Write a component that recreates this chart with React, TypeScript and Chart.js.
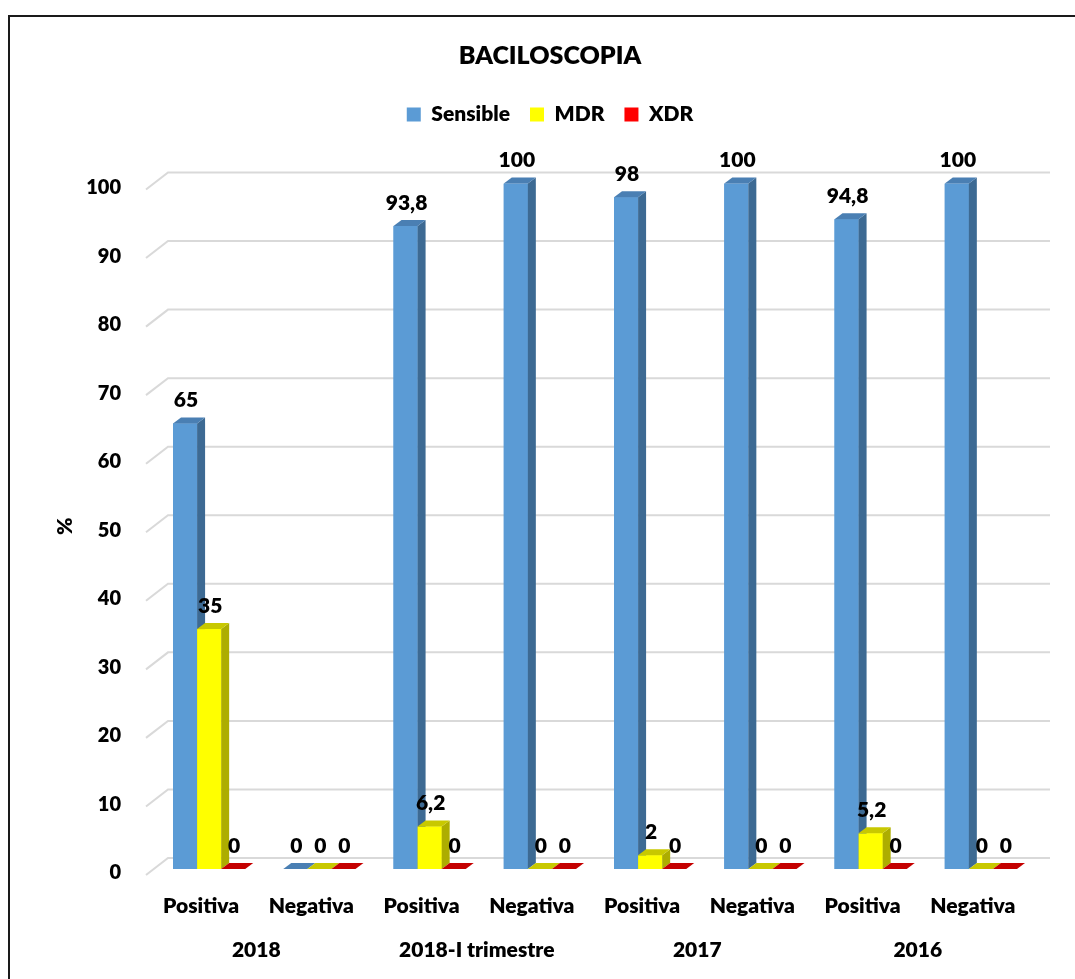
import React, { useEffect, useRef } from "react";
import { Chart, registerables } from "chart.js";

Chart.register(...registerables);

const categories = ["Positiva", "Negativa", "Positiva", "Negativa", "Positiva", "Negativa", "Positiva", "Negativa"];
const groups = ["2018", "2018-I trimestre", "2017", "2016"];
const sensible = [65, 0, 93.8, 100, 98, 100, 94.8, 100];
const mdr = [35, 0, 6.2, 0, 2, 0, 5.2, 0];
const xdr = [0, 0, 0, 0, 0, 0, 0, 0];
const seriesNames = ["Sensible", "MDR", "XDR"];

const FONT = "Lato, 'Open Sans', sans-serif";
const W = 800;
const front = ["#5b9bd5", "#ffff00", "#ff0000"];
const side = ["#3d6a93", "#adad00", "#b00000"];
const topC = ["#4a7fb3", "#c8c800", "#c40000"];
const DX = 8;
const DY = 6;

const fmt = (v: number) => String(v).replace(".", ",");

const framePlugin = {
  id: "frame",
  beforeDraw(chart: any) {
    const ctx = chart.ctx;
    ctx.save();
    ctx.fillStyle = "#ffffff";
    ctx.fillRect(0, 0, chart.width, chart.height);
    ctx.strokeStyle = "#1a1a1a";
    ctx.lineWidth = 2;
    ctx.strokeRect(9, 16, chart.width + 20, chart.height + 20);
    ctx.restore();
  },
};

const legendSpace = {
  id: "legendSpace",
  beforeLayout(chart: any) {
    const lg = chart.legend;
    if (lg && !lg._patched) {
      const orig = lg.fit.bind(lg);
      lg.fit = function () {
        orig();
        this.height += 48.5;
      };
      lg._patched = true;
    }
  },
};

const gridPlugin = {
  id: "grid3d",
  beforeDatasetsDraw(chart: any) {
    const { ctx, chartArea, scales } = chart;
    const y = scales.y;
    ctx.save();
    ctx.strokeStyle = "#d9d9d9";
    ctx.lineWidth = 2;
    y.ticks.forEach((t: any) => {
      const yv = y.getPixelForValue(t.value);
      ctx.beginPath();
      ctx.moveTo(chartArea.left - 8, yv + 6);
      ctx.lineTo(chartArea.left + 14, yv - 11);
      ctx.lineTo(chartArea.right + 14, yv - 11);
      ctx.stroke();
    });
    ctx.restore();
  },
};

const bars3d = {
  id: "bars3d",
  afterDatasetsDraw(chart: any) {
    const ctx = chart.ctx;
    const metas = [0, 1, 2].map((i) => chart.getDatasetMeta(i));
    const n = chart.data.labels.length;
    ctx.save();
    for (let i = 0; i < n; i++) {
      for (let d = 0; d < 3; d++) {
        const el = metas[d].data[i];
        if (!el) continue;
        const { x, y, base, width } = el.getProps(["x", "y", "base", "width"], true);
        const l = x - width / 2;
        const r = x + width / 2;
        const t = Math.min(y, base);
        const b = Math.max(y, base);
        if (b - t > 0.5) {
          ctx.fillStyle = front[d];
          ctx.fillRect(l, t, r - l, b - t);
          ctx.fillStyle = side[d];
          ctx.beginPath();
          ctx.moveTo(r, t);
          ctx.lineTo(r + DX, t - DY);
          ctx.lineTo(r + DX, b - DY);
          ctx.lineTo(r, b);
          ctx.closePath();
          ctx.fill();
        }
        ctx.fillStyle = topC[d];
        ctx.beginPath();
        ctx.moveTo(l, t);
        ctx.lineTo(l + DX, t - DY);
        ctx.lineTo(r + DX, t - DY);
        ctx.lineTo(r, t);
        ctx.closePath();
        ctx.fill();
      }
    }
    ctx.fillStyle = "#000000";
    ctx.font = `${W} 21px ${FONT}`;
    ctx.textAlign = "center";
    ctx.textBaseline = "middle";
    for (let d = 0; d < 3; d++) {
      const ds = chart.data.datasets[d];
      metas[d].data.forEach((el: any, i: number) => {
        const { x, y } = el.getProps(["x", "y"], true);
        ctx.fillText(fmt(ds.data[i]), x + 1, y - 23);
      });
    }
    ctx.restore();
  },
};

export default function App() {
  const ref = useRef<HTMLCanvasElement | null>(null);
  useEffect(() => {
    if (!ref.current) return;
    const chart = new Chart(ref.current, {
      type: "bar",
      data: {
        labels: categories,
        datasets: [sensible, mdr, xdr].map((arr, i) => ({
          label: seriesNames[i],
          data: arr,
          backgroundColor: front[i],
          borderWidth: 0,
          categoryPercentage: 0.655,
          barPercentage: 1,
        })),
      },
      options: {
        responsive: false,
        animation: false,
        devicePixelRatio: 1,
        layout: { padding: { left: 64, right: 39, top: 0, bottom: 0 } },
        plugins: {
          title: {
            display: true,
            text: "BACILOSCOPIA",
            color: "#000",
            font: { family: FONT, size: 25, weight: W },
            padding: { top: 41, bottom: 13 },
          },
          legend: {
            display: true,
            position: "top",
            labels: {
              color: "#000",
              font: { family: FONT, size: 21, weight: W },
              boxWidth: 14,
              boxHeight: 14,
              padding: 20,
            },
          },
          tooltip: { enabled: false },
        },
        scales: {
          x: {
            type: "category",
            offset: true,
            grid: { display: false, drawTicks: false },
            border: { display: false },
            ticks: {
              color: "#000",
              font: { family: FONT, size: 21, weight: W },
              padding: 25,
              labelOffset: -8,
              maxRotation: 0,
              autoSkip: false,
            },
            afterFit: (s: any) => {
              s.height = 55;
            },
          },
          x2: {
            type: "category",
            labels: groups,
            position: "bottom",
            offset: true,
            grid: { display: false, drawTicks: false },
            border: { display: false },
            ticks: {
              color: "#000",
              font: { family: FONT, size: 21, weight: W },
              padding: 14,
              labelOffset: -8,
              maxRotation: 0,
              autoSkip: false,
            },
            afterFit: (s: any) => {
              s.height = 55;
            },
          },
          y: {
            min: 0,
            max: 100,
            grid: { display: false, drawTicks: false },
            border: { display: false },
            ticks: {
              stepSize: 10,
              color: "#000",
              font: { family: FONT, size: 20, weight: W },
              padding: 33,
              labelOffset: 4,
            },
            title: {
              display: true,
              text: "%",
              color: "#000",
              font: { family: FONT, size: 21, weight: W },
              padding: { top: -11, bottom: 0 },
            },
            afterFit: (s: any) => {
              s.width = 90;
            },
          },
        },
      } as any,
      plugins: [framePlugin, legendSpace, gridPlugin, bars3d],
    });
    return () => chart.destroy();
  }, []);
  return (
    <div style={{ position: "absolute", left: 0, top: 0, width: 1075, height: 979 }}>
      <canvas ref={ref} width={1075} height={979} />
    </div>
  );
}
